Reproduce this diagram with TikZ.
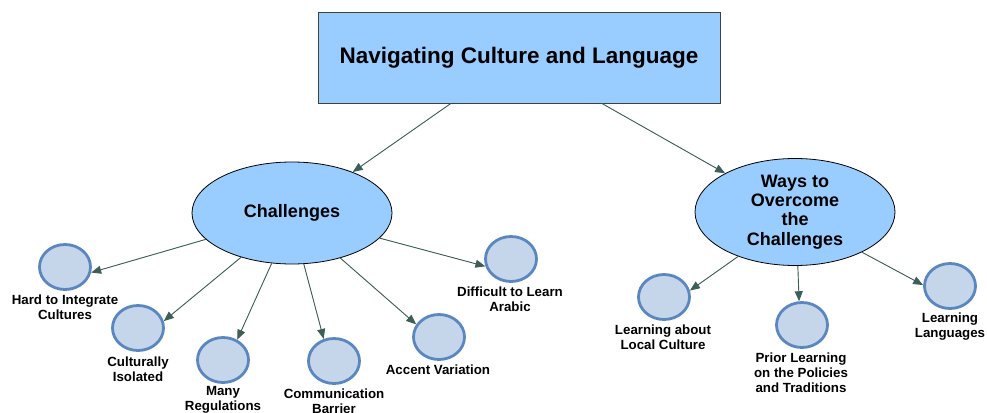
\documentclass[tikz,border=0pt]{standalone}
\usepackage{fontspec}
\setmainfont{Liberation Sans}
\usetikzlibrary{arrows.meta,shapes.geometric}
\definecolor{topfill}{HTML}{99CCFF}
\definecolor{leaffill}{HTML}{C6D6EA}
\definecolor{leafline}{HTML}{5B87C0}
\definecolor{arrowcol}{HTML}{3E5E58}
\tikzset{
  titlebox/.style={draw=black!75, fill=topfill, line width=0.9pt, minimum width=402pt, minimum height=91pt, inner sep=0pt, font=\bfseries\fontsize{22.5}{26}\selectfont},
  bigoval/.style={ellipse, draw=black, fill=topfill, line width=0.8pt, inner sep=0pt, align=center, font=\bfseries\fontsize{18}{19.3}\selectfont},
  leaf/.style={ellipse, draw=leafline, fill=leaffill, line width=2.8pt, minimum width=51pt, minimum height=45pt, inner sep=0pt},
  lbl/.style={align=center, inner sep=0pt, font=\bfseries\fontsize{13.3}{15.2}\selectfont},
  conn/.style={draw=arrowcol, line width=0.9pt, -{Triangle[length=10pt,width=8pt]}, fill=arrowcol}
}
\begin{document}
\begin{tikzpicture}[x=1pt,y=-1pt]
\useasboundingbox (0,0) rectangle (987,412);
\node[titlebox] (main) at (519,57.5) {Navigating Culture and Language};
\node[bigoval, minimum width=200pt, minimum height=102pt] (chal) at (292,213) {Challenges};
\node[bigoval, minimum width=200pt, minimum height=107pt] (ways) at (795,212) {Ways to\\Overcome\\the\\Challenges};

\node[leaf] (hard) at (65,267) {};
\node[leaf] (cult) at (138,328) {};
\node[leaf] (many) at (223,360) {};
\node[leaf] (comm) at (334,361) {};
\node[leaf] (acc) at (439,337) {};
\node[leaf] (arab) at (511,259) {};
\node[leaf] (local) at (664,297) {};
\node[leaf] (prior) at (802,325) {};
\node[leaf] (lang) at (950,286) {};

\node[lbl] (hardl) at (65,307) {Hard to Integrate\\Cultures};
\node[lbl] (cultl) at (138,369.5) {Culturally\\Isolated};
\node[lbl] (manyl) at (223,399.5) {Many\\Regulations};
\node[lbl] (comml) at (334,401.5) {Communication\\Barrier};
\node[lbl] (accl) at (438,370) {Accent Variation};
\node[lbl] (arabl) at (510,299.5) {Difficult to Learn\\Arabic};
\node[lbl] (locall) at (663,337.5) {Learning about\\Local Culture};
\node[lbl] (priorl) at (801,373) {Prior Learning\\on the Policies\\and Traditions};
\node[lbl] (langl) at (950,326.5) {Learning\\Languages};

\draw[conn] (main.214) -- (chal.34);
\draw[conn] (main.331) -- (ways.151);
\draw[conn] (chal.197.5) -- (hard.-12);
\draw[conn] (chal.221) -- (cult.15);
\draw[conn] (chal.248) -- (many.55);
\draw[conn] (chal.283.5) -- (comm.115);
\draw[conn] (chal.317) -- (acc.151);
\draw[conn] (chal.344.5) -- (arab.196);
\draw[conn] (ways.218) -- (local.14);
\draw[conn] (ways.273) -- (prior.97);
\draw[conn] (ways.329.5) -- (lang.178);
\end{tikzpicture}
\end{document}
